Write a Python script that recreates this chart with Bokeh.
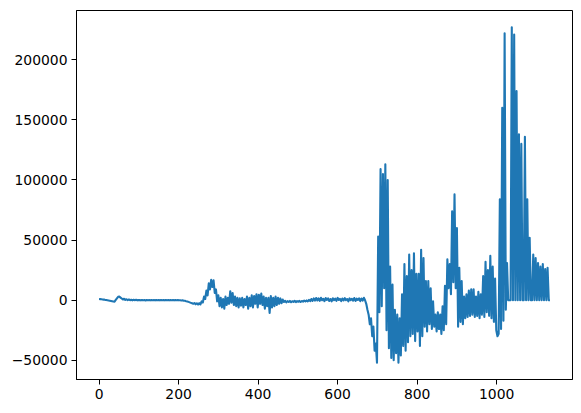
from bokeh.plotting import figure
from bokeh.models import Range1d, SingleIntervalTicker, CustomJSTickFormatter
from bokeh.embed import file_html
from bokeh.resources import INLINE

# sample index of the series (every 3rd sample)
sample_x = [
    0, 3, 6, 9, 12, 15, 18, 21, 24, 27,
    30, 33, 36, 39, 42, 45, 48, 51, 54, 57,
    60, 63, 66, 69, 72, 75, 78, 81, 84, 87,
    90, 93, 96, 99, 102, 105, 108, 111, 114, 117,
    120, 123, 126, 129, 132, 135, 138, 141, 144, 147,
    150, 153, 156, 159, 162, 165, 168, 171, 174, 177,
    180, 183, 186, 189, 192, 195, 198, 201, 204, 207,
    210, 213, 216, 219, 222, 225, 228, 231, 234, 237,
    240, 243, 246, 249, 252, 255, 258, 261, 264, 267,
    270, 273, 276, 279, 282, 285, 288, 291, 294, 297,
    300, 303, 306, 309, 312, 315, 318, 321, 324, 327,
    330, 333, 336, 339, 342, 345, 348, 351, 354, 357,
    360, 363, 366, 369, 372, 375, 378, 381, 384, 387,
    390, 393, 396, 399, 402, 405, 408, 411, 414, 417,
    420, 423, 426, 429, 432, 435, 438, 441, 444, 447,
    450, 453, 456, 459, 462, 465, 468, 471, 474, 477,
    480, 483, 486, 489, 492, 495, 498, 501, 504, 507,
    510, 513, 516, 519, 522, 525, 528, 531, 534, 537,
    540, 543, 546, 549, 552, 555, 558, 561, 564, 567,
    570, 573, 576, 579, 582, 585, 588, 591, 594, 597,
    600, 603, 606, 609, 612, 615, 618, 621, 624, 627,
    630, 633, 636, 639, 642, 645, 648, 651, 654, 657,
    660, 663, 666, 669, 672, 675, 678, 681, 684, 687,
    690, 693, 696, 699, 702, 705, 708, 711, 714, 717,
    720, 723, 726, 729, 732, 735, 738, 741, 744, 747,
    750, 753, 756, 759, 762, 765, 768, 771, 774, 777,
    780, 783, 786, 789, 792, 795, 798, 801, 804, 807,
    810, 813, 816, 819, 822, 825, 828, 831, 834, 837,
    840, 843, 846, 849, 852, 855, 858, 861, 864, 867,
    870, 873, 876, 879, 882, 885, 888, 891, 894, 897,
    900, 903, 906, 909, 912, 915, 918, 921, 924, 927,
    930, 933, 936, 939, 942, 945, 948, 951, 954, 957,
    960, 963, 966, 969, 972, 975, 978, 981, 984, 987,
    990, 993, 996, 999, 1002, 1005, 1008, 1011, 1014, 1017,
    1020, 1023, 1026, 1029, 1032, 1035, 1038, 1041, 1044, 1047,
    1050, 1053, 1056, 1059, 1062, 1065, 1068, 1071, 1074, 1077,
    1080, 1083, 1086, 1089, 1092, 1095, 1098, 1101, 1104, 1107,
    1110, 1113, 1116, 1119, 1122, 1125, 1128, 1131, 1134,
]

# values in thousands
sample_y_thousands = [
    1.0, 0.9, 0.8, 0.6, 0.5, 0.3, 0.2, 0.0, -0.2, -0.4,
    -0.6, -0.8, -1.0, -1.2, 0.2, 1.5, 2.8, 3.0, 2.2, 1.4,
    0.6, 1.2, 0.2, 0.8, 0.1, 0.6, 0.0, 0.4, -0.1, 0.3,
    0.0, 0.3, -0.1, 0.2, 0.1, -0.1, 0.2, 0.0, 0.1, -0.2,
    0.2, 0.0, 0.1, -0.1, 0.2, 0.0, 0.1, -0.1, 0.2, 0.0,
    0.1, -0.1, 0.2, 0.0, 0.1, -0.1, 0.2, 0.0, 0.1, -0.1,
    0.1, 0.0, 0.1, -0.1, 0.1, 0.0, 0.1, -0.1, 0.0, -0.2,
    -0.1, -0.4, -0.5, -0.8, -1.0, -1.4, -1.8, -2.2, -2.6, -3.0,
    -2.4, -3.4, -2.6, -3.6, -2.5, -3.5, -1.0, -2.0, 3.0, 1.0,
    8.0, 4.0, 14.0, 9.0, 17.0, 11.0, 16.5, 6.0, 9.0, -1.0,
    4.0, -5.0, 2.0, -6.0, 1.0, -7.0, 3.0, -4.0, 2.0, -3.0,
    7.5, -2.0, 6.0, -4.0, 3.0, -5.0, 2.0, -6.0, 1.5, -4.5,
    2.0, -6.0, 1.0, -4.0, 3.0, -7.0, 2.0, -5.0, 4.0, -6.0,
    3.5, -3.0, 5.0, -6.0, 4.5, -3.0, 5.5, -4.0, 3.0, -7.0,
    2.0, -5.0, 2.0, -10.5, 3.5, -6.0, 2.0, -5.0, 3.0, -4.0,
    2.0, -3.0, 1.5, -2.5, 0.5, -1.5, -0.5, -1.8, -0.8, -1.5,
    -0.6, -1.7, -0.9, -1.4, -0.5, -1.6, -0.8, -1.3, -0.6, -1.5,
    -0.7, -1.2, -0.4, -1.0, -0.2, -1.0, 0.3, -0.8, 1.0, -0.5,
    1.5, -0.3, 1.8, -0.2, 1.5, -0.5, 2.0, 0.0, 1.2, -0.8,
    1.8, 0.2, 1.5, -0.6, 1.0, -1.0, 1.6, 0.0, 1.3, -0.5,
    1.9, 0.3, 1.1, -0.7, 1.4, -0.2, 1.7, 0.1, 1.0, -0.9,
    1.5, 0.0, 1.2, -0.4, 1.8, -0.6, 1.3, 0.2, 1.6, -0.8,
    1.4, -0.3, 2.0, 0.0, -3.0, -8.0, -12.0, -20.0, -15.0, -30.0,
    -22.0, -42.0, -36.0, -52.0, 53.0, -10.0, 109.0, -5.0, 105.0, 10.0,
    113.0, -25.0, 100.0, -40.0, 28.0, -48.0, 13.0, -50.0, -8.0, -44.0,
    -12.0, -52.0, -15.0, -46.0, 5.0, -38.0, 30.0, -42.0, 20.0, -35.0,
    38.0, -30.0, 25.0, -28.0, 39.0, -34.0, 22.0, -26.0, 22.0, -38.0,
    42.0, -30.0, 35.0, -22.0, 16.0, -26.0, 16.0, -20.0, 10.0, -24.0,
    -1.0, -22.0, -12.0, -26.0, -10.0, -24.0, -12.0, -28.0, -5.0, -25.0,
    12.0, -20.0, 34.0, 10.0, 30.0, 5.0, 74.0, 15.0, 88.0, 10.0,
    60.0, -22.0, 27.0, -18.0, 16.0, -20.0, 3.0, -15.0, 5.0, -14.0,
    8.0, -13.0, 9.0, -12.0, 9.0, -14.0, 3.0, -13.0, 7.0, -15.0,
    5.0, -12.0, 20.0, -14.0, 32.0, -10.0, 25.0, -13.0, 37.0, -15.0,
    28.0, -18.0, 18.0, -25.0, -30.0, -28.0, 84.0, -24.0, 160.0, -17.0,
    222.0, -8.0, 31.0, 0.0, 0.0, 0.0, 227.0, 0.0, 221.0, 0.0,
    174.0, 0.0, 138.0, 0.0, 130.0, 0.0, 0.0, 136.0, 0.0, 84.0,
    0.0, 52.0, 0.0, 0.0, 38.0, 0.0, 35.0, 0.0, 31.0, 0.0,
    28.0, 0.0, 30.0, 0.0, 26.0, 0.0, 27.0, 0.0, 0.0,
]

x_tick_interval = 200
y_tick_interval = 50000

sample_y = [v * 1000 for v in sample_y_thousands]

xmin, xmax = min(sample_x), max(sample_x)
ymin, ymax = min(sample_y), max(sample_y)
xpad = 0.05 * (xmax - xmin)
ypad = 0.05 * (ymax - ymin)

p = figure(
    width=581, height=413,
    output_backend="svg", toolbar_location=None,
    x_range=Range1d(xmin - xpad, xmax + xpad),
    y_range=Range1d(ymin - ypad, ymax + ypad),
    min_border_left=76, min_border_right=9,
    min_border_top=10, min_border_bottom=34,
)

p.line(sample_x, sample_y, line_color="#1f77b4", line_width=2.1,
       line_join="round")

p.xgrid.visible = False
p.ygrid.visible = False
p.outline_line_color = "black"
p.outline_line_width = 1
p.background_fill_color = "white"
p.border_fill_color = "white"

p.xaxis.ticker = SingleIntervalTicker(interval=x_tick_interval)
p.yaxis.ticker = SingleIntervalTicker(interval=y_tick_interval)

fmt = CustomJSTickFormatter(code="""
    var s = Math.abs(tick).toFixed(0);
    return (tick < 0 ? "\\u2212" : "") + s;
""")
p.xaxis.formatter = fmt
p.yaxis.formatter = fmt

for ax in (p.xaxis, p.yaxis):
    ax.axis_line_color = "black"
    ax.axis_line_width = 1
    ax.major_tick_line_color = "black"
    ax.major_tick_line_width = 1
    ax.major_tick_out = 5
    ax.major_tick_in = 0
    ax.minor_tick_line_color = None
    ax.major_label_text_font = "DejaVu Sans"
    ax.major_label_text_font_size = "13.9px"
    ax.major_label_text_color = "black"
    ax.major_label_standoff = 4

open("out.html", "w").write(file_html(p, INLINE))
